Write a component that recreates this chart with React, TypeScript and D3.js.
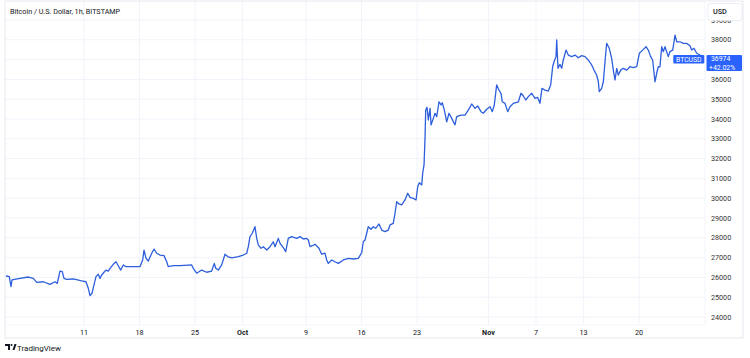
import React from "react";
import * as d3 from "d3";

const TITLE = "Bitcoin / U.S. Dollar, 1h, BITSTAMP";
const SYMBOL = "BTCUSD";
const LAST_PRICE = "36974";
const CHANGE = "+42.02%";
const CURRENCY = "USD";

// days since 2023-09-01 00:00 UTC
const days = [
  0.16, 0.58, 0.79, 0.92, 1.93, 2.98, 3.61, 4.04, 4.87, 5.71, 6.34, 6.63, 6.97, 7.26, 7.48, 7.82,
  8.65, 9.71, 10.25, 10.54, 10.76, 11.01, 11.26, 11.51, 11.8, 12.02, 12.23, 12.52, 12.77, 13.06,
  13.28, 13.69, 14.04, 14.33, 14.63, 14.96, 15.3, 16.22, 17.06, 17.4, 17.57, 17.82, 18.11, 18.54,
  18.83, 19.17, 19.58, 20.09, 20.43, 20.63, 21.26, 22.11, 23.58, 23.78, 24.21, 24.84, 25.47, 26.1,
  26.43, 26.61, 26.94, 27.36, 27.78, 28.12, 28.63, 29.46, 30.09, 30.52, 30.72, 30.93, 31.22, 31.56,
  31.78, 31.98, 32.32, 32.61, 33.04, 33.46, 33.87, 34.09, 34.5, 34.72, 35.13, 35.44, 35.76, 36.19,
  36.82, 37.24, 37.65, 38.08, 38.29, 38.5, 38.79, 39.13, 39.63, 39.97, 40.39, 40.6, 40.81, 41.24,
  41.65, 42.07, 42.7, 43.33, 43.96, 44.59, 45.02, 45.22, 45.44, 45.65, 45.85, 46.19, 46.48, 46.78,
  47.2, 47.54, 47.96, 48.37, 48.59, 49.0, 49.22, 49.43, 49.72, 50.06, 50.48, 50.82, 51.11, 51.53,
  51.87, 52.08, 52.28, 52.59, 52.71, 52.88, 53.01, 53.09, 53.26, 53.42, 53.64, 53.76, 54.05, 54.27,
  54.48, 54.77, 55.02, 55.18, 55.44, 55.74, 56.03, 56.37, 56.78, 57.0, 57.54, 58.04, 58.46, 58.89,
  59.31, 59.65, 60.06, 60.35, 60.78, 61.2, 61.49, 61.74, 62.04, 62.33, 62.58, 62.75, 63.09, 63.43,
  63.72, 64.14, 64.77, 65.11, 65.4, 65.7, 66.03, 66.46, 66.87, 67.21, 67.5, 67.75, 68.13, 68.55,
  68.85, 69.1, 69.27, 69.52, 69.61, 69.77, 70.02, 70.24, 70.44, 70.78, 71.07, 71.5, 71.92, 72.33,
  72.76, 73.18, 73.59, 74.02, 74.31, 74.65, 74.86, 74.98, 75.28, 75.49, 75.7, 75.91, 76.24, 76.54,
  76.75, 76.96, 77.18, 77.38, 77.68, 78.01, 78.44, 78.85, 79.27, 79.7, 80.03, 80.45, 80.87, 81.16,
  81.46, 81.71, 82.0, 82.22, 82.42, 82.63, 82.85, 83.05, 83.26, 83.48, 83.68, 83.89, 84.24, 84.53,
  84.75, 85.16, 85.57, 86.0, 86.42, 86.63, 86.92, 87.26, 87.68, 88.06,
];

const prices = [
  26070, 26040, 25530, 25870, 25950, 26020, 25950, 25750, 25780, 25650, 25780, 25700, 26320, 26290, 25950, 25900,
  25920, 25820, 25780, 25450, 25080, 25200, 25620, 26040, 26160, 25950, 26120, 26260, 26370, 26320,
  26460, 26660, 26790, 26590, 26370, 26630, 26540, 26540, 26540, 26880, 27380, 26960, 26830, 27220,
  27430, 27220, 27130, 27100, 26790, 26540, 26590, 26590, 26630, 26460, 26210, 26370, 26260, 26320,
  26710, 26460, 26370, 26630, 27170, 27050, 26990, 27050, 27130, 27220, 27550, 28060, 28230, 28560,
  27970, 27640, 27470, 27550, 27380, 27550, 27800, 27550, 27970, 27720, 27500, 27300, 27970, 28060,
  27970, 28060, 27940, 27970, 27890, 27550, 27600, 27670, 27470, 27170, 27220, 26880, 26710, 26880,
  26790, 26710, 26880, 26960, 26930, 26960, 27250, 27800, 27890, 28230, 28560, 28430, 28560, 28480,
  28700, 28390, 28310, 28390, 28650, 28730, 29240, 29820, 29710, 29660, 29910, 30250, 30040, 29990,
  29910, 30580, 30780, 30670, 31260, 31680, 33110, 34450, 34590, 33950, 34540, 33700, 34030, 34290,
  34120, 34870, 34710, 34820, 34450, 33860, 34290, 34030, 33700, 34120, 34200, 34200, 34450, 34760,
  34540, 34660, 34370, 34290, 34490, 34620, 34370, 34710, 35720, 35460, 35300, 34870, 34790, 34370,
  34620, 34790, 34870, 35300, 35160, 34960, 35130, 35300, 35040, 35090, 34790, 35550, 35460, 35410,
  35720, 36640, 36890, 37150, 37990, 36560, 36760, 36560, 36980, 37480, 37230, 37150, 37230, 37090,
  37200, 37150, 36980, 36730, 36470, 36220, 35880, 35380, 35550, 35880, 36890, 37820, 37570, 37060,
  36470, 35970, 36560, 36220, 36470, 36560, 36470, 36640, 36590, 36640, 37320, 37480, 37650, 37480,
  37150, 36980, 35880, 36310, 36640, 36640, 37650, 37400, 37650, 37400, 37150, 37400, 37480, 38240,
  37900, 37900, 37820, 37820, 37700, 37480, 37570, 37320, 37230, 36974,
];

const xTickDates = ["2023-09-11", "2023-09-18", "2023-09-25", "2023-10-01", "2023-10-09", "2023-10-16", "2023-10-23", "2023-11-01", "2023-11-07", "2023-11-13", "2023-11-20"];
const xTickLabels = ["11", "18", "25", "Oct", "9", "16", "23", "Nov", "7", "13", "20"];
const xTickBold = [false, false, false, true, false, false, false, true, false, false, false];
const yTicks = [24000, 25000, 26000, 27000, 28000, 29000, 30000, 31000, 32000, 33000, 34000, 35000, 36000, 37000, 38000, 39000];

const W = 750;
const H = 358;
const FONT = "Roboto, 'Noto Sans', sans-serif";
const BLUE = "#2962ff";
const LINE = "#2d5fdc";
const GRID = "#f0f3fa";
const BORDER = "#e0e3eb";
const TEXT = "#131722";

const START = Date.UTC(2023, 8, 1);
const DAY = 86400000;

export default function App() {
  const plotL = 5, plotR = 705, plotT = 1, plotB = 325;
  const x = d3.scaleUtc().domain([new Date(START), new Date(Date.UTC(2023, 10, 28))]).range([4.7, 4.7 + 88 * 7.93]);
  const y = d3.scaleLinear().domain([24000, 39000]).range([317, 20]);
  const pts: [Date, number][] = days.map((d, i) => [new Date(START + d * DAY), prices[i]]);
  const line = d3.line<[Date, number]>().x((d) => x(d[0])).y((d) => y(d[1]));
  const path = line(pts) || "";
  const parse = (s: string) => new Date(s + "T00:00:00Z");

  return (
    <svg width={W} height={H} style={{ position: "absolute", left: 0, top: 0, background: "#fff" }} fontFamily={FONT}>
      <defs>
        <clipPath id="plot">
          <rect x={plotL} y={plotT} width={plotR - plotL} height={plotB - plotT} />
        </clipPath>
      </defs>
      <rect x={0} y={0} width={W} height={H} fill="#fff" />
      {/* grid */}
      {yTicks.map((t) => (
        <line key={"gy" + t} x1={plotL} x2={plotR} y1={y(t)} y2={y(t)} stroke={GRID} strokeWidth={1} />
      ))}
      {xTickDates.map((s) => (
        <line key={"gx" + s} x1={x(parse(s))} x2={x(parse(s))} y1={plotT} y2={plotB} stroke={GRID} strokeWidth={1} />
      ))}
      {/* borders */}
      <rect x={plotL} y={plotT} width={743 - plotL} height={338 - plotT} fill="none" stroke={BORDER} strokeWidth={0.8} />
      <line x1={plotR} x2={plotR} y1={plotT} y2={plotB} stroke={GRID} strokeWidth={0.8} />
      <line x1={plotL} x2={plotR} y1={plotB} y2={plotB} stroke={GRID} strokeWidth={0.8} />
      {/* title */}
      <text x={10} y={13.5} fontSize={7.2} fill={TEXT}>{TITLE}</text>
      {/* price line */}
      <path d={path} fill="none" stroke={LINE} strokeWidth={1.3} strokeLinejoin="round" clipPath="url(#plot)" />
      {/* y labels */}
      {yTicks.map((t) => (
        <text key={"yl" + t} x={711} y={y(t) + 2.6} fontSize={7.2} fill="#333">{t}</text>
      ))}
      {/* x labels */}
      {xTickDates.map((s, i) => (
        <text key={"xl" + s} x={x(parse(s))} y={334.5} fontSize={7.2} textAnchor="middle" fill={TEXT} fontWeight={xTickBold[i] ? 700 : 400}>
          {xTickLabels[i]}
        </text>
      ))}
      {/* USD box (covers most of the top tick label, as in the reference) */}
      <rect x={708} y={3.5} width={34} height={17} rx={2} fill="#fff" stroke={BORDER} strokeWidth={0.6} />
      <text x={713} y={13.5} fontSize={7.2} fill={TEXT} fontWeight={500}>{CURRENCY}</text>
      {/* symbol label */}
      <rect x={673.3} y={55} width={31} height={8.5} rx={1} fill={BLUE} />
      <text x={688.8} y={61.6} fontSize={6.8} fill="#fff" textAnchor="middle">{SYMBOL}</text>
      <rect x={706.5} y={55} width={35.5} height={16} rx={1} fill={BLUE} />
      <text x={711} y={61.2} fontSize={6.9} fill="#fff">{LAST_PRICE}</text>
      <text x={709} y={69.6} fontSize={6.9} fill="#fff">{CHANGE}</text>
      {/* logo */}
      <g transform="translate(5,344)" fill={TEXT}>
        <path d="M0 0 H5 V6 H3 V2 H0 Z" />
        <circle cx={6.5} cy={1} r={1} />
        <path d="M7.5 6 L9.5 0 H11.5 L9.5 6 Z" />
      </g>
      <text x={17} y={350.5} fontSize={8} fill={TEXT}>TradingView</text>
    </svg>
  );
}
